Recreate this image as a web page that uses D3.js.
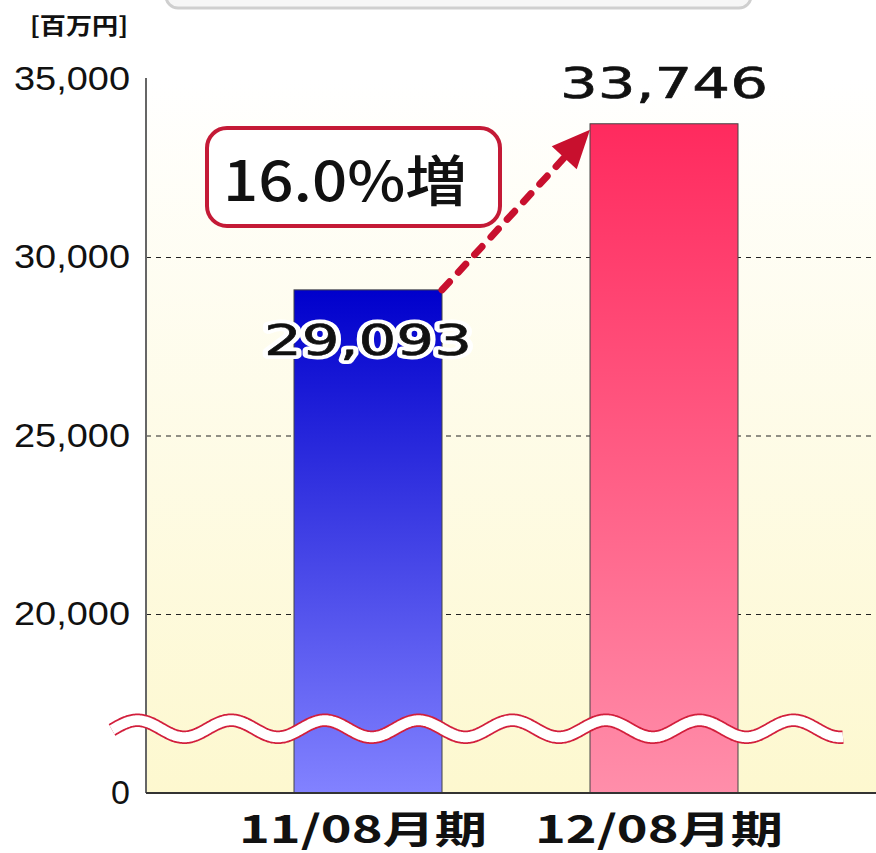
<!DOCTYPE html>
<html><head><meta charset="utf-8">
<script src="https://cdn.jsdelivr.net/npm/d3@7"></script>
<style>html,body{margin:0;padding:0;background:#fff;overflow:hidden}</style>
</head><body>
<svg id="chart" width="876" height="853"></svg>
<script>
const categories = ["11/08月期", "12/08月期"];
const values = [29093, 33746];
const valueLabels = ["29,093", "33,746"];
const tickValues = [15000, 20000, 25000, 30000, 35000];
const tickLabels = ["0", "20,000", "25,000", "30,000", "35,000"];
const gridValues = [20000, 25000, 30000];
const growthLabel = "16.0%増";
const unitLabel = "[百万円]";
const breakValue = 16800;

const svg = d3.select("#chart");
const defs = svg.append("defs");

const x = d3.scaleBand().domain(categories).range([146, 886]).paddingInner(0.5).paddingOuter(0.5);
const y = d3.scaleLinear().domain([15000, 35000]).range([793, 79]);

// gradients
const bgG = defs.append("linearGradient").attr("id","bg").attr("x1",0).attr("y1",0).attr("x2",0).attr("y2",1);
bgG.append("stop").attr("offset","0%").attr("stop-color","#ffffff");
bgG.append("stop").attr("offset","100%").attr("stop-color","#fdf8cf");
const g1 = defs.append("linearGradient").attr("id","b0").attr("gradientUnits","userSpaceOnUse")
  .attr("x1",0).attr("x2",0).attr("y1",y(values[0])).attr("y2",y(15000));
g1.append("stop").attr("offset","0%").attr("stop-color","#0000cc");
g1.append("stop").attr("offset","100%").attr("stop-color","#8282ff");
const g2 = defs.append("linearGradient").attr("id","b1").attr("gradientUnits","userSpaceOnUse")
  .attr("x1",0).attr("x2",0).attr("y1",y(values[1])).attr("y2",y(15000));
g2.append("stop").attr("offset","0%").attr("stop-color","#ff2a5e");
g2.append("stop").attr("offset","100%").attr("stop-color","#ff8eaa");

// top partial gray box
svg.append("rect").attr("x",166).attr("y",-30).attr("width",585).attr("height",38).attr("rx",12)
  .attr("fill","#f6f6f6").attr("stroke","#cfcfcf").attr("stroke-width",3);

// unit label
svg.append("text").attr("x",30).attr("y",34).attr("font-family","Noto Sans CJK JP")
  .attr("font-weight",700).attr("font-size",23).attr("textLength",98).attr("lengthAdjust","spacingAndGlyphs")
  .attr("fill","#111").text(unitLabel);

// plot background
svg.append("rect").attr("x",146).attr("y",y(35000)).attr("width",876-146).attr("height",y(15000)-y(35000))
  .attr("fill","url(#bg)");

// gridlines
svg.selectAll(".grid").data(gridValues).join("line").attr("class","grid")
  .attr("x1",146).attr("x2",876).attr("y1",d=>y(d)).attr("y2",d=>y(d))
  .attr("stroke","#222").attr("stroke-width",1).attr("stroke-dasharray","5,5");

// bars
svg.selectAll(".bar").data(values).join("rect").attr("class","bar")
  .attr("x",(d,i)=>x(categories[i])).attr("width",x.bandwidth())
  .attr("y",d=>y(d)).attr("height",d=>y(15000)-y(d))
  .attr("fill",(d,i)=>`url(#b${i})`).attr("stroke","#444").attr("stroke-width",1);

// axes
svg.append("line").attr("x1",146).attr("x2",146).attr("y1",y(35000)-1).attr("y2",y(15000))
  .attr("stroke","#666").attr("stroke-width",2);
svg.append("line").attr("x1",146).attr("x2",876).attr("y1",y(15000)).attr("y2",y(15000))
  .attr("stroke","#333").attr("stroke-width",2);

const yAxis = d3.axisLeft(y).tickValues(tickValues).tickSize(0).tickPadding(0)
  .tickFormat((d,i)=>tickLabels[i]);
const ya = svg.append("g").attr("transform","translate(130,0)").call(yAxis);
ya.select(".domain").remove();
ya.selectAll("text").attr("font-family","Liberation Sans, Arial, sans-serif").attr("font-size",34)
  .attr("fill","#111").attr("dy","0.3em")
  .each(function(d,i){ if(tickLabels[i].length>1){ d3.select(this).attr("textLength",116).attr("lengthAdjust","spacingAndGlyphs"); } });

// wave break
const waveStart = 112, waveEnd = 843, period = 93.7, amp = 8.5;
const wy = y(breakValue);
const wpts = d3.range(waveStart, waveEnd + 0.5, 1).map(px => [px, wy - amp*Math.sin(2*Math.PI*(px-114)/period)]);
const wline = d3.line().curve(d3.curveBasis);
svg.append("path").attr("d",wline(wpts)).attr("fill","none").attr("stroke","#d21f3c").attr("stroke-width",13.5);
svg.append("path").attr("d",wline(wpts)).attr("fill","none").attr("stroke","#ffffff").attr("stroke-width",10);

// arrow
const sx = x(categories[0]) + x.bandwidth(), sy = y(values[0]);
const tx = x(categories[1]), ty = y(values[1]) + 6;
const ang = Math.atan2(ty - sy, tx - sx);
const hl = 38, hw = 17;
const bx = tx - hl*Math.cos(ang), by = ty - hl*Math.sin(ang);
svg.append("line").attr("x1",sx).attr("y1",sy).attr("x2",bx+4*Math.cos(ang)).attr("y2",by+4*Math.sin(ang))
  .attr("stroke","#c8102e").attr("stroke-width",7).attr("stroke-linecap","round").attr("stroke-dasharray","11,13");
const px = -Math.sin(ang), py = Math.cos(ang);
svg.append("path").attr("d",`M${tx},${ty}L${bx+hw*px},${by+hw*py}L${bx-hw*px},${by-hw*py}Z`).attr("fill","#c8102e");

// growth box
svg.append("rect").attr("x",207).attr("y",128).attr("width",293).attr("height",98).attr("rx",20)
  .attr("fill","#fff").attr("stroke","#c41a36").attr("stroke-width",4);
svg.append("text").attr("x",223).attr("y",201).attr("font-family","Noto Sans CJK JP").attr("font-weight",500)
  .attr("font-size",55).attr("textLength",244).attr("lengthAdjust","spacingAndGlyphs").attr("fill","#111").text(growthLabel);

// value labels (white halo + slightly thickened glyphs)
const vlY = [d=>y(d)+65, d=>y(d)-26];
function valueText(cls, stroke, sw){
  svg.selectAll("."+cls).data(values).join("text").attr("class",cls)
    .attr("x",(d,i)=>x(categories[i])+x.bandwidth()/2).attr("y",(d,i)=>vlY[i](d))
    .attr("text-anchor","middle").attr("font-family","DejaVu Sans").attr("font-weight",400)
    .attr("font-size",42).attr("textLength",208).attr("lengthAdjust","spacingAndGlyphs")
    .attr("fill","#111").attr("stroke",stroke).attr("stroke-width",sw).attr("stroke-linejoin","round")
    .text((d,i)=>valueLabels[i]);
}
valueText("vlh", "#fff", 8);
valueText("vl", "#111", 0.6);

// category labels
svg.selectAll(".cl").data(categories).join("text").attr("class","cl")
  .attr("x",d=>x(d)+x.bandwidth()/2-5).attr("y",843)
  .attr("text-anchor","middle").attr("font-family","Noto Sans CJK JP").attr("font-weight",700)
  .attr("font-size",38).attr("textLength",248).attr("lengthAdjust","spacingAndGlyphs")
  .attr("fill","#111").text(d=>d);
</script>
</body></html>
